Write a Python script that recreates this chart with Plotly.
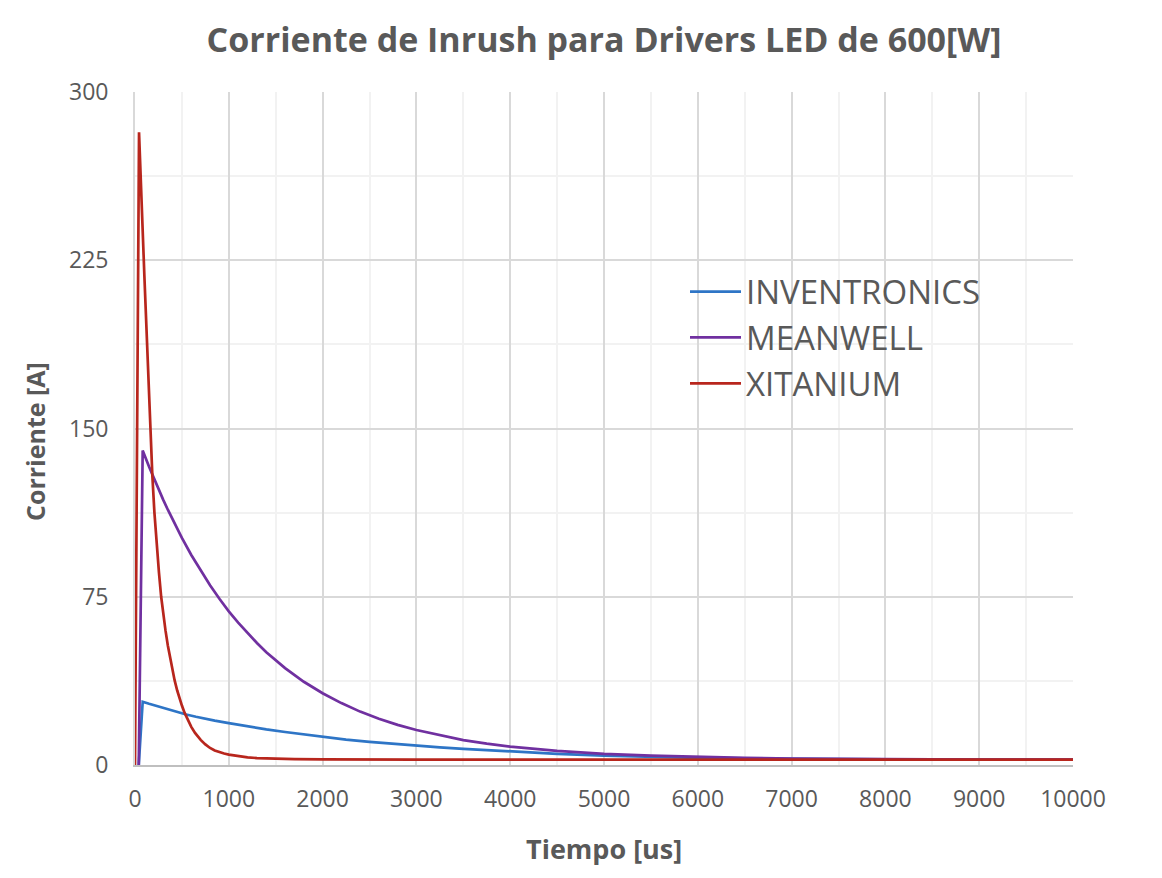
import plotly.graph_objects as go

# ---- data ----
inv_t = [40, 82, 150, 250, 350, 450, 546, 650, 750, 850, 1000, 1200, 1400, 1600, 1800, 2000, 2250,
         2500, 2750, 3000, 3250, 3500, 4000, 4500, 5000, 5500, 6000, 6500, 7000, 7500, 8000, 9000, 10000]
inv_i = [0, 28.2, 27.3, 26.0, 24.8, 23.6, 22.5, 21.5, 20.6, 19.8, 18.7, 17.2, 15.9, 14.7, 13.6, 12.4,
         11.3, 10.3, 9.4, 8.6, 7.9, 7.2, 6.0, 5.0, 4.2, 3.6, 3.2, 2.95, 2.75, 2.6, 2.5, 2.45, 2.4]

mw_t = [40, 82, 150, 200, 250, 300, 350, 400, 450, 500, 600, 700, 800, 900, 1000, 1100, 1200, 1300,
        1400, 1500, 1600, 1800, 2000, 2200, 2400, 2600, 2800, 3000, 3250, 3500, 3750, 4000, 4500,
        5000, 5500, 6000, 6500, 7000, 7500, 8000, 9000, 10000]
mw_i = [0, 140.2, 132.9, 127.8, 123.0, 118.3, 113.8, 109.4, 105.2, 101.2, 93.6, 86.6, 80.1, 74.1,
        68.5, 63.5, 58.8, 54.4, 50.3, 46.6, 43.2, 37.1, 32.0, 27.6, 23.8, 20.6, 17.9, 15.6, 13.2,
        11.1, 9.5, 8.2, 6.3, 5.0, 4.2, 3.6, 3.2, 2.9, 2.7, 2.6, 2.45, 2.4]

xi_t = [0, 43, 100, 161, 185, 207, 230, 255, 279, 300, 325, 350, 375, 400, 422, 450, 475, 500, 529,
        560, 600, 640, 672, 700, 750, 800, 850, 900, 950, 1000, 1100, 1200, 1300, 1400, 1500, 1700,
        2000, 3000, 10000]
xi_i = [0, 282, 218, 150, 129, 112.5, 99, 86, 75, 67.5, 60, 53.3, 47.5, 42, 37.8, 33.2, 29.6, 26.5,
        23.2, 20.2, 17, 14.3, 12.5, 11.2, 9.2, 7.6, 6.5, 5.7, 5.1, 4.6, 3.9, 3.4, 3.1, 2.9, 2.75,
        2.6, 2.5, 2.4, 2.4]

series_names = ["INVENTRONICS", "MEANWELL", "XITANIUM"]
series_colors = ["#2E75C6", "#7030A0", "#B8261D"]

x_ticks = list(range(0, 10001, 1000))
y_ticks = [0, 75, 150, 225, 300]

GRAY = "#595959"
FONT = "Open Sans"

fig = go.Figure()
for name, t, v, c in zip(series_names, [inv_t, mw_t, xi_t], [inv_i, mw_i, xi_i], series_colors):
    fig.add_trace(go.Scatter(x=t, y=v, mode="lines", name=name,
                             line=dict(color=c, width=2.7)))

fig.update_layout(
    width=1162, height=878,
    margin=dict(l=127, r=97, t=84, b=121),
    paper_bgcolor="white", plot_bgcolor="white",
    title=dict(text="<b>Corriente de Inrush para Drivers LED de 600[W]</b>",
               x=0.5, xref="paper", xanchor="center",
               y=1 - 32 / 878, yref="container", yanchor="middle",
               font=dict(family=FONT, size=34, color=GRAY)),
    legend=dict(x=(685 - 135) / 938, y=0.745, xanchor="left", yanchor="top",
                bgcolor="rgba(0,0,0,0)", font=dict(family=FONT, size=33, color=GRAY),
                tracegroupgap=0, itemwidth=51),
    showlegend=True,
    font=dict(family=FONT, color=GRAY),
)

fig.update_xaxes(range=[0, 10000], tickvals=x_ticks, ticktext=[str(v) for v in x_ticks],
                 tickfont=dict(family=FONT, size=23, color=GRAY),
                 ticks="outside", ticklen=12, tickcolor="rgba(0,0,0,0)",
                 showgrid=True, gridcolor="#D9D9D9", gridwidth=1.8,
                 minor=dict(dtick=500, tick0=0, showgrid=True, gridcolor="#F2F2F2", gridwidth=1.8),
                 zeroline=False, showline=True, linecolor="#BFBFBF", linewidth=2,
                 fixedrange=True)
fig.update_yaxes(range=[0, 300], tickvals=y_ticks, ticktext=[str(v) for v in y_ticks],
                 tickfont=dict(family=FONT, size=23, color=GRAY),
                 ticks="outside", ticklen=20, tickcolor="rgba(0,0,0,0)",
                 showgrid=True, gridcolor="#D9D9D9", gridwidth=1.8,
                 minor=dict(dtick=37.5, tick0=0, showgrid=True, gridcolor="#F2F2F2", gridwidth=1.8),
                 zeroline=False, showline=True, linecolor="#D9D9D9", linewidth=1.8,
                 fixedrange=True)

fig.add_annotation(text="<b>Tiempo [us]</b>", xref="paper", yref="paper",
                   x=(604 - 135) / 938, y=-(848 - 765) / 673, xanchor="center", yanchor="middle",
                   showarrow=False, font=dict(family=FONT, size=27, color=GRAY))
fig.add_annotation(text="<b>Corriente [A]</b>", xref="paper", yref="paper",
                   x=-(135 - 35) / 938, y=(765 - 442) / 673, xanchor="center", yanchor="middle",
                   textangle=-90, showarrow=False, font=dict(family=FONT, size=25, color=GRAY))

fig.write_html("out.html")
